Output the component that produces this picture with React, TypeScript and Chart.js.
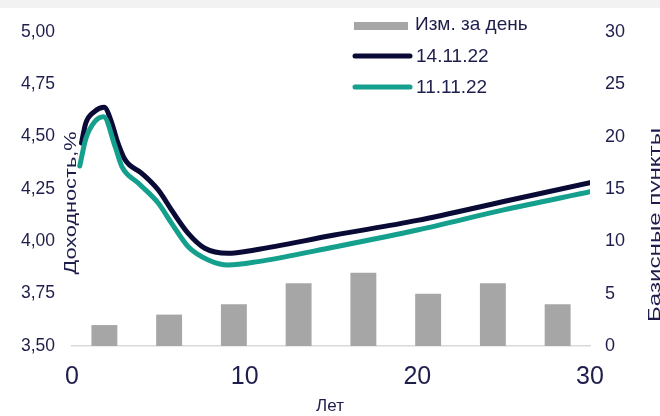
import React, { useEffect, useRef } from "react";
import { Chart, registerables } from "chart.js";

Chart.register(...registerables);

// Bar buckets (daily change, basis points) – evenly spread over the 0–30 year range
const barBuckets = ["b1", "b2", "b3", "b4", "b5", "b6", "b7", "b8"];
const barChangeBp = [2, 3, 4, 6, 7, 5, 6, 4];

// Curve 14.11.22
const years14 = [0.55, 0.8, 1.3, 1.86, 2.31, 2.6, 3.08, 4.04, 5.0, 5.77, 6.73, 7.69, 9.04, 10.58, 15.2, 20, 25, 30];
const yields14 = [4.47, 4.565, 4.62, 4.64, 4.564, 4.484, 4.389, 4.325, 4.245, 4.149, 4.038, 3.967, 3.943, 3.959, 4.03, 4.1, 4.19, 4.28];

// Curve 11.11.22
const years11 = [0.45, 0.8, 1.3, 1.83, 2.5, 2.89, 3.85, 5.0, 5.77, 6.73, 7.89, 9.04, 10.77, 15.2, 20, 25, 30];
const yields11 = [4.36, 4.49, 4.57, 4.595, 4.452, 4.357, 4.277, 4.182, 4.086, 3.974, 3.911, 3.887, 3.903, 3.973, 4.054, 4.15, 4.237];

const xTickLabels = [0, 10, 20, 30];
const leftTitle = "Доходность,%";
const rightTitle = "Базисные пункты";
const xTitle = "Лет";
const barLabel = "Изм. за день";
const label14 = "14.11.22";
const label11 = "11.11.22";

const TEXT = "#1e1e4c";
const DARK = "#0a0a36";
const TEAL = "#14a08d";
const GRAY = "#a6a6a6";
const FONT = "'Liberation Sans', Arial, sans-serif";

function drawStretched(ctx: CanvasRenderingContext2D, text: string, cx: number, cy: number, size: number, length: number) {
  ctx.save();
  ctx.font = `${size}px ${FONT}`;
  const w = ctx.measureText(text).width;
  ctx.translate(cx, cy);
  ctx.rotate(-Math.PI / 2);
  ctx.scale(length / w, 1);
  ctx.fillStyle = TEXT;
  ctx.textAlign = "center";
  ctx.textBaseline = "middle";
  ctx.fillText(text, 0, 0);
  ctx.restore();
}

const decor = {
  id: "decor",
  beforeDraw(chart: any) {
    const ctx = chart.ctx as CanvasRenderingContext2D;
    ctx.save();
    ctx.fillStyle = "#ffffff";
    ctx.fillRect(0, 0, chart.width, chart.height);
    ctx.fillStyle = "#f2f2f2";
    ctx.fillRect(0, 0, chart.width, 8);
    ctx.restore();
  },
  afterDraw(chart: any) {
    const ctx = chart.ctx as CanvasRenderingContext2D;
    const ds = chart.data.datasets;
    // legend
    ctx.save();
    ctx.font = `19px ${FONT}`;
    ctx.textBaseline = "middle";
    ctx.textAlign = "left";
    ctx.fillStyle = ds[0].backgroundColor;
    ctx.fillRect(354, 22, 54, 8);
    ctx.fillStyle = TEXT;
    ctx.fillText(ds[0].label, 415, 25);
    const rows = [
      { d: ds[1], y: 56 },
      { d: ds[2], y: 87 },
    ];
    rows.forEach((r) => {
      ctx.strokeStyle = r.d.borderColor;
      ctx.lineWidth = 5;
      ctx.lineCap = "round";
      ctx.beginPath();
      ctx.moveTo(355, r.y);
      ctx.lineTo(410, r.y);
      ctx.stroke();
      ctx.fillStyle = TEXT;
      ctx.fillText(r.d.label, 416, r.y + 1);
    });
    ctx.restore();
    // axis titles
    const ca = chart.chartArea;
    drawStretched(ctx, leftTitle, ca.left - 1, 203, 17, 143);
    drawStretched(ctx, rightTitle, chart.width - 5, 225, 17, 194);
    ctx.save();
    ctx.font = `17px ${FONT}`;
    ctx.fillStyle = TEXT;
    ctx.textAlign = "center";
    ctx.textBaseline = "middle";
    ctx.fillText(xTitle, (ca.left + ca.right) / 2 - 1, 406);
    ctx.restore();
  },
};

export default function App() {
  const ref = useRef<HTMLCanvasElement>(null);
  useEffect(() => {
    document.body.style.margin = "0";
    document.body.style.overflow = "hidden";
    const canvas = ref.current!;
    const chart = new Chart(canvas, {
      type: "line",
      data: {
        labels: barBuckets,
        datasets: [
          {
            type: "bar",
            label: barLabel,
            data: barChangeBp,
            xAxisID: "xb",
            yAxisID: "y1",
            backgroundColor: GRAY,
            grouped: false,
            barPercentage: 0.4,
            categoryPercentage: 1,
            order: 3,
          } as any,
          {
            type: "line",
            label: label14,
            data: years14.map((x, i) => ({ x, y: yields14[i] })),
            xAxisID: "x",
            yAxisID: "y",
            borderColor: DARK,
            backgroundColor: DARK,
            borderWidth: 5,
            pointRadius: 0,
            cubicInterpolationMode: "monotone",
            borderCapStyle: "round",
            borderJoinStyle: "round",
            fill: false,
            order: 2,
          } as any,
          {
            type: "line",
            label: label11,
            data: years11.map((x, i) => ({ x, y: yields11[i] })),
            xAxisID: "x",
            yAxisID: "y",
            borderColor: TEAL,
            backgroundColor: TEAL,
            borderWidth: 5,
            pointRadius: 0,
            cubicInterpolationMode: "monotone",
            borderCapStyle: "round",
            borderJoinStyle: "round",
            fill: false,
            order: 1,
          } as any,
        ],
      },
      options: {
        responsive: false,
        animation: false,
        devicePixelRatio: 1,
        layout: { padding: { top: 32, left: 0, right: 0, bottom: 0 } },
        plugins: { legend: { display: false }, tooltip: { enabled: false } },
        scales: {
          x: {
            type: "linear",
            position: "bottom",
            min: 0,
            max: 30,
            afterBuildTicks: (s: any) => {
              s.ticks = xTickLabels.map((v) => ({ value: v }));
            },
            ticks: { color: TEXT, font: { family: FONT, size: 25 }, padding: 16, maxRotation: 0 },
            grid: { display: false, drawTicks: false },
            border: { display: true, color: "#d9d9d9", width: 1.5 },
            afterFit: (s: any) => {
              s.height = 70;
            },
          },
          xb: {
            type: "category",
            labels: barBuckets,
            display: false,
            offset: true,
          },
          y: {
            position: "left",
            min: 3.5,
            max: 5,
            ticks: {
              stepSize: 0.25,
              color: TEXT,
              font: { family: FONT, size: 17.5 },
              padding: 17,
              callback: (v: any) => Number(v).toFixed(2).replace(".", ","),
            },
            grid: { display: false, drawTicks: false },
            border: { display: false },
            afterFit: (s: any) => {
              s.width = 72;
            },
          },
          y1: {
            position: "right",
            min: 0,
            max: 30,
            ticks: { stepSize: 5, color: TEXT, font: { family: FONT, size: 18 }, padding: 15 },
            grid: { display: false, drawTicks: false },
            border: { display: false },
            afterFit: (s: any) => {
              s.width = 70;
            },
          },
        },
      } as any,
      plugins: [decor],
    });
    return () => chart.destroy();
  }, []);
  return (
    <div style={{ width: 660, height: 416 }}>
      <canvas ref={ref} width={660} height={416} style={{ display: "block" }} />
    </div>
  );
}
